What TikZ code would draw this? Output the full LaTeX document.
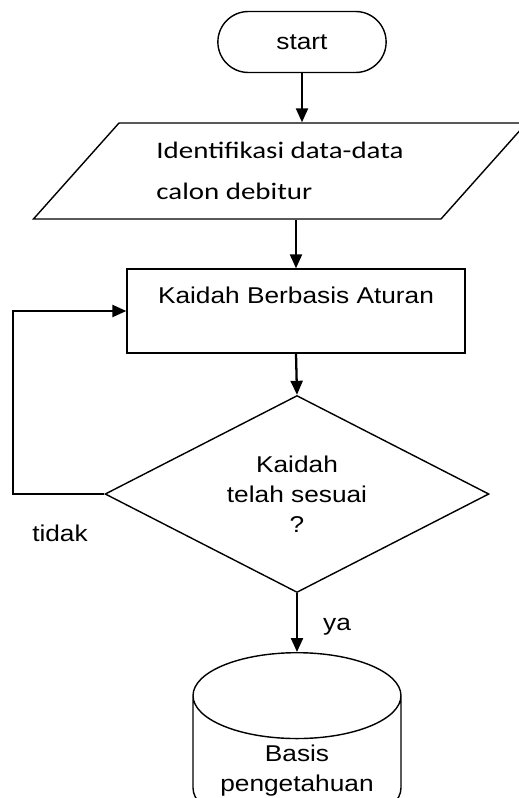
\documentclass[tikz,border=0pt]{standalone}
\usepackage{fontspec}
\setmainfont{Liberation Sans}[FakeStretch=1.15]
\newfontfamily\calibri{Carlito}[FakeStretch=1.22]
\usetikzlibrary{shapes.geometric,shapes.misc,arrows.meta}

\begin{document}
\begin{tikzpicture}[x=0.02cm, y=-0.02cm, font=\fontsize{13}{17}\selectfont,
every node/.style={draw, line width=0.8pt, align=center},
lbl/.style={draw=none},
flow/.style={line width=1.3pt, -{Triangle[length=0.28cm, width=0.24cm]}}]
\useasboundingbox (0,0) rectangle (518,798);
\node(start)[rounded rectangle, minimum width=3.6cm, minimum height=1.22cm] at (302,42) {start};
\node(input)[trapezium, trapezium left angle=45, trapezium right angle=135, trapezium stretches=true,
minimum width=9.88cm, minimum height=1.92cm, align=left, font=\calibri\fontsize{13.5}{23}\selectfont] at (280,171) {Identifikasi data-data\\calon debitur};
\node(rule)[rectangle, minimum width=6.76cm, inner ysep=0pt, text height=0.68cm, text depth=1.0cm] at (296,311) {Kaidah Berbasis Aturan};
\node(check)[diamond, aspect=1.95, minimum width=7.68cm, minimum height=3.94cm] at (297,494) {Kaidah\\telah sesuai\\?};
\node(kb)[cylinder, shape border rotate=90, aspect=0.52, anchor=top, minimum width=4.16cm, minimum height=3.2cm] at (297,652) {Basis\\pengetahuan};
\coordinate(loop) at (13,494);
\node(no)[lbl] at (60,533) {tidak};
\node(yes)[lbl] at (337,627) {ya};
\draw[flow] (start.south) -- (start.south |- input.north);
\draw[flow] (rule.north |- input.south) -- (rule.north);
\draw[flow] (rule.south) -- (check.north);
\draw[flow] (check.south) -- (kb.top);
\draw[flow] (check.west) -- (loop) |- (rule.west);
\end{tikzpicture}
\end{document}
